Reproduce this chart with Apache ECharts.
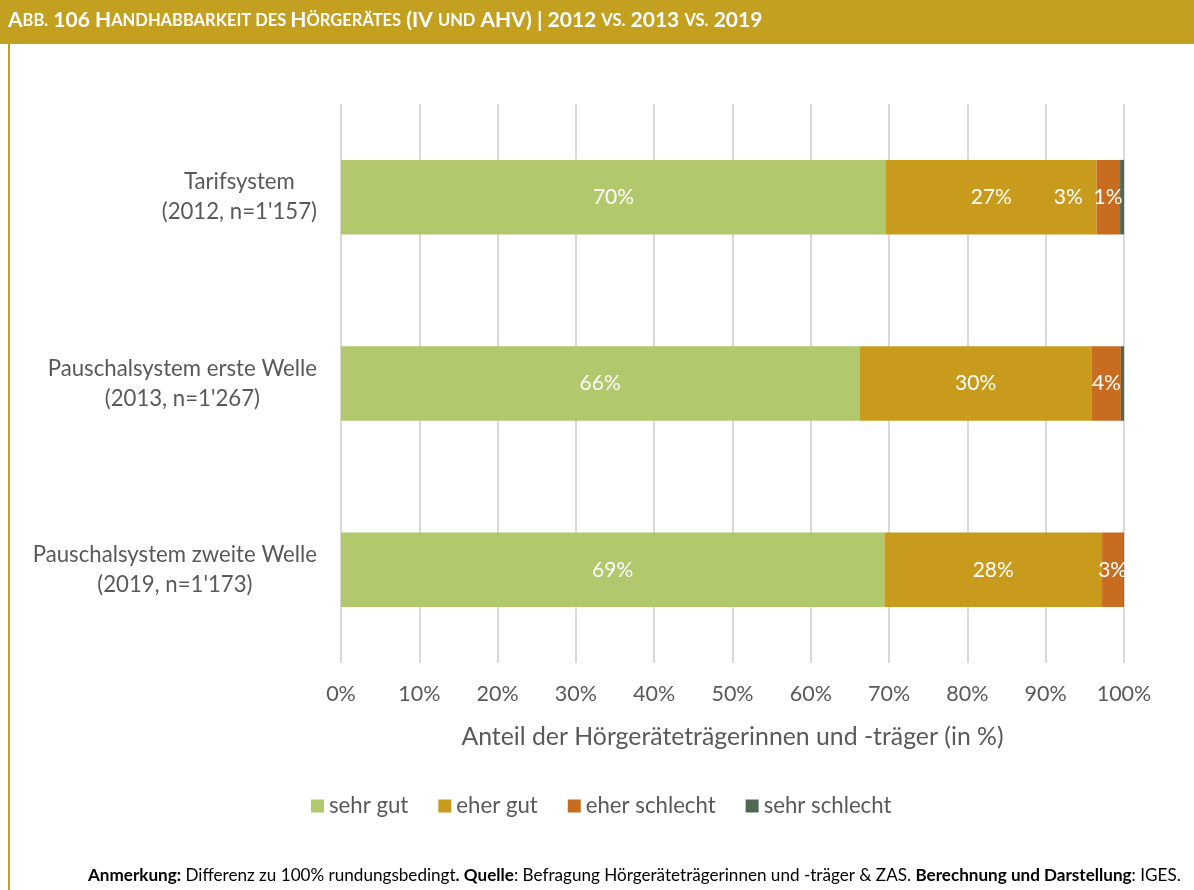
<!DOCTYPE html>
<html>
<head>
<meta charset="utf-8">
<script src="https://cdn.jsdelivr.net/npm/echarts@6/dist/echarts.min.js"></script>
<style>
  html, body { margin: 0; padding: 0; background: #fff; }
  #chart { width: 1194px; height: 890px; }
</style>
</head>
<body>
<div id="chart"></div>
<script>
// categories (top to bottom)
const categories = [
  'Tarifsystem\n(2012, n=1\'157)',
  'Pauschalsystem erste Welle\n(2013, n=1\'267)',
  'Pauschalsystem zweite Welle\n(2019, n=1\'173)'
];
const seriesNames = ['sehr gut', 'eher gut', 'eher schlecht', 'sehr schlecht'];
// shares in %
const sehrGut = [69.6, 66.2, 69.4];
const eherGut = [26.9, 29.7, 27.8];
const eherSchlecht = [3.0, 3.7, 2.7];
const sehrSchlecht = [0.5, 0.4, 0.1];
const xTicks = [0, 10, 20, 30, 40, 50, 60, 70, 80, 90, 100];

const colors = ['#b2c86c', '#c89b1c', '#c86c1f', '#4f6852'];
const FONT = 'Lato, "Open Sans", sans-serif';
const GREY = '#595959';

// manual label shifts like in the original (first bar, two small segments)
const labelShift = {
  2: [[-40, 0], [0, 0], [0, 0]],
  3: [[-14, 0], [0, 0], [0, 0]]
};

function makeSeries(name, values, idx) {
  return {
    name: name,
    type: 'bar',
    stack: 'total',
    barWidth: '40%',
    itemStyle: { color: colors[idx] },
    label: {
      show: true,
      color: '#fff',
      fontSize: 21,
      fontFamily: FONT,
      formatter: (p) => p.value >= 0.5 ? Math.round(p.value) + '%' : ''
    },
    data: values.map((v, i) => {
      const item = { value: v };
      if (labelShift[idx]) item.label = { offset: labelShift[idx][i] };
      return item;
    })
  };
}

const chart = echarts.init(document.getElementById('chart'));

// small caps title pieces: [text, big?]
const titleParts = [
  ['A', 1], ['BB.', 0], [' 106 H', 1], ['ANDHABBARKEIT DES ', 0], ['H', 1], ['ÖRGERÄTES', 0],
  [' (IV ', 1], ['UND', 0], [' AHV) | 2012 ', 1], ['VS.', 0], [' 2013 ', 1], ['VS.', 0], [' 2019', 1]
];
const titleText = titleParts.map(p => '{' + (p[1] ? 'b' : 's') + '|' + p[0] + '}').join('');

const option = {
  animation: false,
  backgroundColor: '#fff',
  color: colors,
  grid: { left: 341, right: 70, top: 104, bottom: 227, containLabel: false },
  xAxis: {
    type: 'value',
    min: 0,
    max: 100,
    interval: 10,
    name: 'Anteil der Hörgeräteträgerinnen und -träger (in %)',
    nameLocation: 'middle',
    nameGap: 62,
    nameTextStyle: { color: GREY, fontSize: 24.8, fontFamily: FONT },
    axisLine: { show: false },
    axisTick: { show: false },
    axisLabel: {
      color: GREY, fontSize: 21.5, fontFamily: FONT, margin: 20,
      formatter: (v) => xTicks.includes(v) ? v + '%' : ''
    },
    splitLine: { lineStyle: { color: '#d9d9d9', width: 2 } }
  },
  yAxis: {
    type: 'category',
    data: categories,
    inverse: true,
    axisLine: { show: false },
    axisTick: { show: false },
    axisLabel: {
      margin: 24,
      align: 'right',
      formatter: (v) => v.split('\n').map(l => '{c|' + l + '}').join('\n'),
      rich: {
        c: { color: GREY, fontSize: 22.2, fontFamily: FONT, lineHeight: 30, align: 'center' }
      }
    }
  },
  legend: {
    data: seriesNames,
    left: 306,
    top: 790,
    icon: 'rect',
    itemWidth: 13,
    itemHeight: 13,
    itemGap: 30,
    textStyle: { color: GREY, fontSize: 22.2, fontFamily: FONT }
  },
  graphic: [
    { type: 'rect', left: 0, top: 0, shape: { width: 1194, height: 44 }, style: { fill: '#c3a01f' } },
    { type: 'rect', left: 8, top: 44, shape: { width: 2, height: 846 }, style: { fill: '#c3a01f' } },
    {
      type: 'text', left: 8, top: 10,
      style: {
        text: titleText,
        rich: {
          b: { fontSize: 21, fontWeight: 'bold', fill: '#fff', fontFamily: FONT },
          s: { fontSize: 16.5, fontWeight: 'bold', fill: '#fff', fontFamily: FONT }
        }
      }
    },
    {
      type: 'text', left: 88, top: 867,
      style: {
        text: '{b|Anmerkung:} Differenz zu 100% rundungsbedingt{b|. Quelle}: Befragung Hörgeräteträgerinnen und -träger & ZAS. {b|Berechnung und Darstellung}: IGES.',
        fill: '#000', fontSize: 17.1, fontFamily: FONT,
        rich: { b: { fontWeight: 'bold', fontSize: 17.1, fill: '#000', fontFamily: FONT } }
      }
    }
  ],
  series: [
    makeSeries(seriesNames[0], sehrGut, 0),
    makeSeries(seriesNames[1], eherGut, 1),
    makeSeries(seriesNames[2], eherSchlecht, 2),
    makeSeries(seriesNames[3], sehrSchlecht, 3)
  ]
};

chart.setOption(option);
</script>
</body>
</html>
